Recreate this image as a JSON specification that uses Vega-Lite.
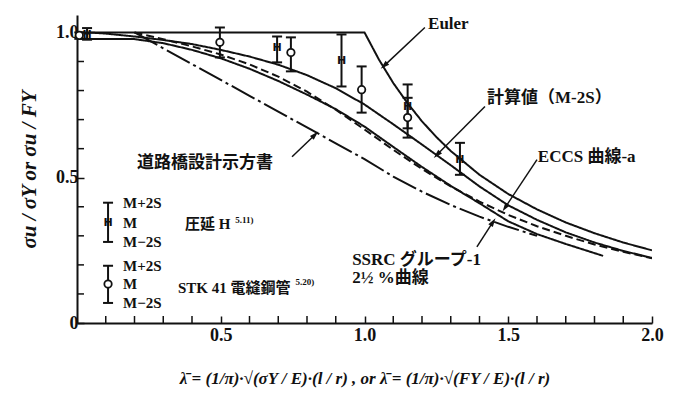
{
  "$schema": "https://vega.github.io/schema/vega-lite/v6.json",
  "width": 575,
  "height": 308,
  "autosize": {"type": "none"},
  "padding": {"left": 77, "top": 15, "right": 21, "bottom": 87},
  "background": "white",
  "config": {
    "view": {"stroke": null},
    "axis": {
      "grid": false,
      "domainColor": "#111",
      "domainWidth": 2,
      "tickColor": "#111",
      "tickWidth": 1.5,
      "tickSize": -7,
      "labelOverlap": false,
      "labelFont": "Liberation Serif",
      "labelFontSize": 18,
      "labelFontWeight": "bold",
      "labelColor": "#111",
      "titleFont": "Liberation Serif",
      "titleFontSize": 18,
      "titleFontWeight": "bold",
      "titleFontStyle": "italic",
      "titleColor": "#111"
    }
  },
  "datasets": {
    "curves": [
      {"curve": "Euler", "lam": 0, "v": 1},
      {"curve": "Euler", "lam": 0.5, "v": 1},
      {"curve": "Euler", "lam": 1.0, "v": 1},
      {"curve": "Euler", "lam": 1.05, "v": 0.907},
      {"curve": "Euler", "lam": 1.1, "v": 0.826},
      {"curve": "Euler", "lam": 1.15, "v": 0.756},
      {"curve": "Euler", "lam": 1.2, "v": 0.694},
      {"curve": "Euler", "lam": 1.25, "v": 0.64},
      {"curve": "Euler", "lam": 1.3, "v": 0.592},
      {"curve": "Euler", "lam": 1.4, "v": 0.51},
      {"curve": "Euler", "lam": 1.5, "v": 0.444},
      {"curve": "Euler", "lam": 1.6, "v": 0.391},
      {"curve": "Euler", "lam": 1.7, "v": 0.346},
      {"curve": "Euler", "lam": 1.8, "v": 0.309},
      {"curve": "Euler", "lam": 1.9, "v": 0.277},
      {"curve": "Euler", "lam": 2.0, "v": 0.25},
      {"curve": "計算値", "lam": 0.04, "v": 1.0},
      {"curve": "計算値", "lam": 0.1, "v": 0.996},
      {"curve": "計算値", "lam": 0.2, "v": 0.986},
      {"curve": "計算値", "lam": 0.3, "v": 0.974},
      {"curve": "計算値", "lam": 0.4, "v": 0.96},
      {"curve": "計算値", "lam": 0.5, "v": 0.94},
      {"curve": "計算値", "lam": 0.6, "v": 0.917},
      {"curve": "計算値", "lam": 0.7, "v": 0.889},
      {"curve": "計算値", "lam": 0.8, "v": 0.853},
      {"curve": "計算値", "lam": 0.9, "v": 0.808},
      {"curve": "計算値", "lam": 1.0, "v": 0.752},
      {"curve": "計算値", "lam": 1.1, "v": 0.684},
      {"curve": "計算値", "lam": 1.2, "v": 0.614},
      {"curve": "計算値", "lam": 1.3, "v": 0.543},
      {"curve": "計算値", "lam": 1.4, "v": 0.47},
      {"curve": "計算値", "lam": 1.5, "v": 0.405},
      {"curve": "計算値", "lam": 1.6, "v": 0.355},
      {"curve": "計算値", "lam": 1.7, "v": 0.312},
      {"curve": "計算値", "lam": 1.8, "v": 0.277},
      {"curve": "計算値", "lam": 1.9, "v": 0.248},
      {"curve": "計算値", "lam": 2.0, "v": 0.224},
      {"curve": "SSRC", "lam": 0.0, "v": 0.978},
      {"curve": "SSRC", "lam": 0.2, "v": 0.977},
      {"curve": "SSRC", "lam": 0.3, "v": 0.963},
      {"curve": "SSRC", "lam": 0.4, "v": 0.94},
      {"curve": "SSRC", "lam": 0.5, "v": 0.911},
      {"curve": "SSRC", "lam": 0.6, "v": 0.875},
      {"curve": "SSRC", "lam": 0.7, "v": 0.833},
      {"curve": "SSRC", "lam": 0.8, "v": 0.786},
      {"curve": "SSRC", "lam": 0.9, "v": 0.736},
      {"curve": "SSRC", "lam": 1.0, "v": 0.676},
      {"curve": "SSRC", "lam": 1.1, "v": 0.606},
      {"curve": "SSRC", "lam": 1.2, "v": 0.537},
      {"curve": "SSRC", "lam": 1.3, "v": 0.472},
      {"curve": "SSRC", "lam": 1.4, "v": 0.412},
      {"curve": "SSRC", "lam": 1.5, "v": 0.35},
      {"curve": "SSRC", "lam": 1.6, "v": 0.306},
      {"curve": "SSRC", "lam": 1.7, "v": 0.272},
      {"curve": "SSRC", "lam": 1.83, "v": 0.231},
      {"curve": "ECCS", "lam": 0.2, "v": 1.0},
      {"curve": "ECCS", "lam": 0.3, "v": 0.977},
      {"curve": "ECCS", "lam": 0.4, "v": 0.952},
      {"curve": "ECCS", "lam": 0.5, "v": 0.924},
      {"curve": "ECCS", "lam": 0.6, "v": 0.89},
      {"curve": "ECCS", "lam": 0.7, "v": 0.848},
      {"curve": "ECCS", "lam": 0.8, "v": 0.796},
      {"curve": "ECCS", "lam": 0.9, "v": 0.734},
      {"curve": "ECCS", "lam": 1.0, "v": 0.666},
      {"curve": "ECCS", "lam": 1.1, "v": 0.596},
      {"curve": "ECCS", "lam": 1.2, "v": 0.53},
      {"curve": "ECCS", "lam": 1.3, "v": 0.47},
      {"curve": "ECCS", "lam": 1.4, "v": 0.418},
      {"curve": "ECCS", "lam": 1.5, "v": 0.372},
      {"curve": "ECCS", "lam": 1.6, "v": 0.333},
      {"curve": "ECCS", "lam": 1.7, "v": 0.3},
      {"curve": "ECCS", "lam": 1.8, "v": 0.27},
      {"curve": "ECCS", "lam": 1.9, "v": 0.245},
      {"curve": "ECCS", "lam": 2.0, "v": 0.223},
      {"curve": "道路橋", "lam": 0.2, "v": 1.0},
      {"curve": "道路橋", "lam": 0.3, "v": 0.9455},
      {"curve": "道路橋", "lam": 0.4, "v": 0.891},
      {"curve": "道路橋", "lam": 0.5, "v": 0.8365},
      {"curve": "道路橋", "lam": 0.6, "v": 0.782},
      {"curve": "道路橋", "lam": 0.7, "v": 0.7275},
      {"curve": "道路橋", "lam": 0.8, "v": 0.673},
      {"curve": "道路橋", "lam": 0.9, "v": 0.6185},
      {"curve": "道路橋", "lam": 1.0, "v": 0.564},
      {"curve": "道路橋", "lam": 1.1, "v": 0.504},
      {"curve": "道路橋", "lam": 1.2, "v": 0.452},
      {"curve": "道路橋", "lam": 1.3, "v": 0.406},
      {"curve": "道路橋", "lam": 1.4, "v": 0.366},
      {"curve": "道路橋", "lam": 1.5, "v": 0.331},
      {"curve": "道路橋", "lam": 1.6, "v": 0.3}
    ],
    "minorx": [
      {"lam": 0.1}, {"lam": 0.2}, {"lam": 0.3}, {"lam": 0.4}, {"lam": 0.6}, {"lam": 0.7},
      {"lam": 0.8}, {"lam": 0.9}, {"lam": 1.1}, {"lam": 1.2}, {"lam": 1.3}, {"lam": 1.4},
      {"lam": 1.6}, {"lam": 1.7}, {"lam": 1.8}, {"lam": 1.9}
    ],
    "minory": [
      {"v": 0.1}, {"v": 0.2}, {"v": 0.3}, {"v": 0.4}, {"v": 0.6}, {"v": 0.7}, {"v": 0.8}, {"v": 0.9}
    ],
    "bars": [
      {"kind": "O", "lam": 0.008, "m": 0.99, "lo": 0.978, "hi": 1.0},
      {"kind": "H", "lam": 0.035, "m": 0.992, "lo": 0.975, "hi": 1.015},
      {"kind": "O", "lam": 0.497, "m": 0.966, "lo": 0.914, "hi": 1.017},
      {"kind": "H", "lam": 0.696, "m": 0.948, "lo": 0.897, "hi": 0.986},
      {"kind": "O", "lam": 0.744, "m": 0.931, "lo": 0.866, "hi": 0.983},
      {"kind": "H", "lam": 0.92, "m": 0.9, "lo": 0.814, "hi": 0.993},
      {"kind": "O", "lam": 0.99, "m": 0.803, "lo": 0.724, "hi": 0.883},
      {"kind": "H", "lam": 1.15, "m": 0.745, "lo": 0.67, "hi": 0.821},
      {"kind": "O", "lam": 1.15, "m": 0.707, "lo": 0.638, "hi": 0.775},
      {"kind": "H", "lam": 1.332, "m": 0.562, "lo": 0.51, "hi": 0.62},
      {"kind": "H", "lam": 0.108, "m": 0.345, "lo": 0.279, "hi": 0.414},
      {"kind": "O", "lam": 0.108, "m": 0.134, "lo": 0.069, "hi": 0.197}
    ],
    "labels": [
      {"lam": 1.221, "v": 1.028, "text": "Euler"},
      {"lam": 1.426, "v": 0.776, "text": "計算値（M-2S）"},
      {"lam": 1.603, "v": 0.572, "text": "ECCS 曲線-a"},
      {"lam": 0.957, "v": 0.217, "text": "SSRC グループ-1"},
      {"lam": 0.957, "v": 0.155, "text": "2½ %曲線"},
      {"lam": 0.209, "v": 0.552, "text": "道路橋設計示方書"}
    ],
    "small": [
      {"lam": 0.16, "v": 0.414, "text": "M+2S"},
      {"lam": 0.16, "v": 0.345, "text": "M"},
      {"lam": 0.16, "v": 0.279, "text": "M−2S"},
      {"lam": 0.16, "v": 0.197, "text": "M+2S"},
      {"lam": 0.16, "v": 0.134, "text": "M"},
      {"lam": 0.16, "v": 0.069, "text": "M−2S"},
      {"lam": 0.376, "v": 0.341, "text": "圧延  H"},
      {"lam": 0.351, "v": 0.121, "text": "STK 41 電縫鋼管"}
    ],
    "sups": [
      {"lam": 0.55, "v": 0.355, "text": "5.11)"},
      {"lam": 0.76, "v": 0.14, "text": "5.20)"}
    ],
    "arrows": [
      {"id": "Euler", "lam": 1.21, "v": 1.017},
      {"id": "Euler", "lam": 1.068, "v": 0.885},
      {"id": "計算値", "lam": 1.419, "v": 0.745},
      {"id": "計算値", "lam": 1.252, "v": 0.579},
      {"id": "ECCS", "lam": 1.6, "v": 0.562},
      {"id": "ECCS", "lam": 1.489, "v": 0.397},
      {"id": "SSRC", "lam": 1.391, "v": 0.262},
      {"id": "SSRC", "lam": 1.447, "v": 0.348},
      {"id": "道路橋", "lam": 0.748, "v": 0.572},
      {"id": "道路橋", "lam": 0.828, "v": 0.648}
    ],
    "tips": [
      {"id": "Euler", "lam": 1.068, "v": 0.885, "angle": 228},
      {"id": "計算値", "lam": 1.252, "v": 0.579, "angle": 225},
      {"id": "ECCS", "lam": 1.489, "v": 0.397, "angle": 214},
      {"id": "SSRC", "lam": 1.447, "v": 0.348, "angle": 33},
      {"id": "道路橋", "lam": 0.828, "v": 0.648, "angle": 46}
    ]
  },
  "layer": [
    {
      "data": {"name": "curves"},
      "mark": {"type": "line", "color": "#111", "strokeWidth": 2, "clip": true},
      "encoding": {
        "x": {
          "field": "lam", "type": "quantitative",
          "scale": {"domain": [0, 2], "nice": false, "zero": false},
          "axis": {
            "title": "λ̄ = (1/π)·√(σY / E)·(l / r) ,  or  λ̄ = (1/π)·√(FY / E)·(l / r)",
            "values": [0.5, 1.0, 1.5, 2.0],
            "format": ".1f",
            "labelPadding": 10,
            "labelFlush": false,
            "labelBound": false,
            "titleFontSize": 17,
            "titlePadding": 26
          }
        },
        "y": {
          "field": "v", "type": "quantitative",
          "scale": {"domain": [0, 1.06], "nice": false},
          "axis": {
            "title": "σu / σY   or   σu / FY",
            "values": [0, 0.5, 1.0],
            "labelExpr": "datum.value == 0 ? '0' : format(datum.value, '.1f')",
            "labelPadding": 6,
            "labelBound": false,
            "titleFontSize": 21,
            "titlePadding": 16
          }
        },
        "detail": {"field": "curve"},
        "strokeDash": {
          "field": "curve", "type": "nominal",
          "scale": {
            "domain": ["Euler", "計算値", "SSRC", "ECCS", "道路橋"],
            "range": [[1, 0], [1, 0], [1, 0], [8, 4], [26, 4, 3, 4]]
          },
          "legend": null
        }
      }
    },
    {
      "data": {"name": "minorx"},
      "mark": {"type": "rule", "color": "#111", "strokeWidth": 1.5},
      "encoding": {
        "x": {"field": "lam", "type": "quantitative"},
        "y": {"datum": 0},
        "y2": {"datum": 0.024}
      }
    },
    {
      "data": {"name": "minory"},
      "mark": {"type": "rule", "color": "#111", "strokeWidth": 1.5},
      "encoding": {
        "y": {"field": "v", "type": "quantitative"},
        "x": {"datum": 0},
        "x2": {"datum": 0.0243}
      }
    },
    {
      "data": {"name": "bars"},
      "mark": {"type": "rule", "color": "#111", "strokeWidth": 2},
      "encoding": {
        "x": {"field": "lam", "type": "quantitative"},
        "y": {"field": "lo", "type": "quantitative"},
        "y2": {"field": "hi"}
      }
    },
    {
      "data": {"name": "bars"},
      "transform": [{"fold": ["lo", "hi"], "as": ["end", "val"]}],
      "mark": {"type": "point", "shape": "M -1 0 L 1 0", "size": 100, "filled": false, "stroke": "#111", "strokeWidth": 2, "opacity": 1},
      "encoding": {
        "x": {"field": "lam", "type": "quantitative"},
        "y": {"field": "val", "type": "quantitative"}
      }
    },
    {
      "data": {"name": "bars"},
      "transform": [{"filter": "datum.kind == 'H'"}],
      "mark": {"type": "text", "text": "H", "font": "DejaVu Sans", "fontSize": 11, "fontWeight": "bold", "color": "#111", "baseline": "middle", "align": "center"},
      "encoding": {
        "x": {"field": "lam", "type": "quantitative"},
        "y": {"field": "m", "type": "quantitative"}
      }
    },
    {
      "data": {"name": "bars"},
      "transform": [{"filter": "datum.kind == 'O'"}],
      "mark": {"type": "point", "shape": "circle", "size": 55, "filled": true, "fill": "white", "stroke": "#111", "strokeWidth": 1.8, "opacity": 1},
      "encoding": {
        "x": {"field": "lam", "type": "quantitative"},
        "y": {"field": "m", "type": "quantitative"}
      }
    },
    {
      "data": {"name": "arrows"},
      "mark": {"type": "line", "color": "#111", "strokeWidth": 1.5},
      "encoding": {
        "x": {"field": "lam", "type": "quantitative"},
        "y": {"field": "v", "type": "quantitative"},
        "detail": {"field": "id"}
      }
    },
    {
      "data": {"name": "tips"},
      "mark": {"type": "point", "shape": "M 0 -1 L 0.6 1 L -0.6 1 Z", "size": 80, "filled": true, "color": "#111", "opacity": 1},
      "encoding": {
        "x": {"field": "lam", "type": "quantitative"},
        "y": {"field": "v", "type": "quantitative"},
        "angle": {"field": "angle", "type": "quantitative", "scale": null}
      }
    },
    {
      "data": {"name": "labels"},
      "mark": {"type": "text", "align": "left", "baseline": "middle", "font": "Liberation Serif, Noto Sans CJK JP", "fontSize": 17, "fontWeight": "bold", "color": "#111"},
      "encoding": {
        "x": {"field": "lam", "type": "quantitative"},
        "y": {"field": "v", "type": "quantitative"},
        "text": {"field": "text"}
      }
    },
    {
      "data": {"name": "small"},
      "mark": {"type": "text", "align": "left", "baseline": "middle", "font": "Liberation Serif, Noto Sans CJK JP", "fontSize": 15, "fontWeight": "bold", "color": "#111"},
      "encoding": {
        "x": {"field": "lam", "type": "quantitative"},
        "y": {"field": "v", "type": "quantitative"},
        "text": {"field": "text"}
      }
    },
    {
      "data": {"name": "sups"},
      "mark": {"type": "text", "align": "left", "baseline": "middle", "font": "Liberation Serif", "fontSize": 9, "fontWeight": "bold", "color": "#111"},
      "encoding": {
        "x": {"field": "lam", "type": "quantitative"},
        "y": {"field": "v", "type": "quantitative"},
        "text": {"field": "text"}
      }
    }
  ]
}
